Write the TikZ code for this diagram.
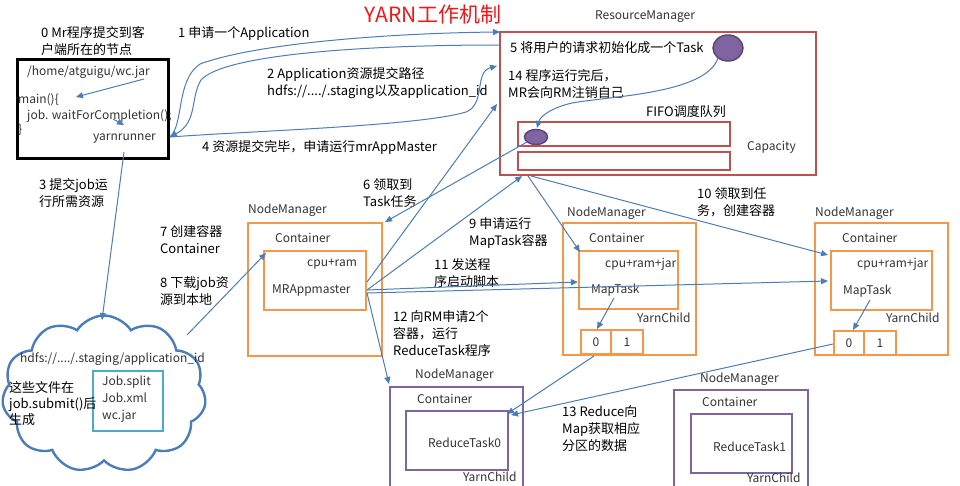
\documentclass[tikz,border=0pt]{standalone}
\usepackage{fontspec}
\setmainfont{Noto Sans CJK SC}
\usetikzlibrary{arrows.meta,shapes.symbols,shapes.geometric}
\definecolor{lineblue}{HTML}{4A7EBB}
\definecolor{rmred}{HTML}{C0504D}
\definecolor{nmorange}{HTML}{F79646}
\definecolor{rpurple}{HTML}{8064A2}
\definecolor{pborder}{HTML}{5C4776}
\definecolor{jobcyan}{HTML}{4BACC6}
\definecolor{txtgray}{HTML}{333333}
\definecolor{titlered}{HTML}{F01818}
\begin{document}
\begin{tikzpicture}[x=1pt,y=-1pt,
  lbl/.style={font=\fontsize{13}{17}\selectfont, align=left, anchor=north west, inner sep=0pt},
  txt/.style={font=\fontsize{12}{15}\selectfont, text=txtgray, anchor=west, inner sep=0pt},
  conn/.style={draw=lineblue, line width=1pt, -{Triangle[length=7pt,width=6pt]}},
  rbox/.style={draw=rmred, line width=2.5pt, anchor=north west, inner sep=0pt, outer sep=0pt},
  obox/.style={draw=nmorange, line width=2.5pt, anchor=north west, inner sep=0pt, outer sep=0pt},
  pbox/.style={draw=rpurple, line width=2.5pt, anchor=north west, inner sep=0pt, outer sep=0pt},
  taskdot/.style={ellipse, draw=pborder, line width=1.5pt, fill=rpurple, inner sep=0pt},
]
\useasboundingbox[fill=white] (0,0) rectangle (960,485);
\clip (0,0) rectangle (960,485);

% title
\node[font=\fontsize{21}{24}\selectfont, text=titlered, inner sep=0pt] (title) at (433,15) {YARN工作机制};

% client
\node[draw=black, line width=3pt, anchor=north west, minimum width=151, minimum height=99, inner sep=0pt] (client) at (16,58) {};
\node[lbl] (l0) at (41,26) {0 Mr程序提交到客\\户端所在的节点};
\node[txt] (jar) at (27,72) {/home/atguigu/wc.jar};
\node[txt] (main) at (18,100) {main()\{};
\node[txt] (wait) at (27,116) {job. waitForCompletion();};
\node[txt] (brace) at (18,130) {\}};
\node[txt] (yr) at (93,139) {yarnrunner};
\coordinate (yrp) at (170,137);
\coordinate (jarp) at (144,79);
\coordinate (mainp) at (76,97);
\coordinate (waitp) at (113,119);
\coordinate (yrtop) at (124,125);
\coordinate (yrbot) at (124,152);
\draw[conn] (jarp) -- (mainp);
\draw[conn] (waitp) -- (yrtop);

% resource manager
\node[font=\fontsize{12}{15}\selectfont, text=txtgray, inner sep=0pt] (rmname) at (645,17) {ResourceManager};
\node[rbox, minimum width=316, minimum height=143] (rm) at (500,32) {};
\node[lbl, anchor=west] (l5) at (510,48) {5 将用户的请求初始化成一个Task};
\node[taskdot, minimum width=30, minimum height=26] (bigtask) at (728,48) {};
\node[lbl] (l14) at (508,69) {14 程序运行完后，\\MR会向RM注销自己};
\node[lbl, anchor=west] (fifo) at (646,112) {FIFO调度队列};
\node[rbox, line width=2.2pt, minimum width=212, minimum height=24] (q1) at (518,122) {};
\node[rbox, line width=2.2pt, minimum width=212, minimum height=18] (q2) at (518,152) {};
\node[txt] (cap) at (747,147) {Capacity};
\node[taskdot, minimum width=23, minimum height=15] (smalltask) at (536,137) {};
\coordinate (rmtop) at (500,32);
\coordinate (rmin2) at (500,45);
\coordinate (rm4) at (497,66);
\coordinate (rm14) at (497,104);
\coordinate (rm9) at (522,176);
\coordinate (rmout) at (528,176);
\coordinate (rmout10) at (531,176);
\coordinate (bigtaskp) at (718,58);
\coordinate (smalltaskp) at (537,128);
\coordinate (smalltaskq) at (527,142);

% labels of the client/RM exchange
\node[lbl] (l1) at (178,26) {1 申请一个Application};
\node[lbl] (l2) at (267,67) {2 Application资源提交路径\\hdfs://..../.staging以及application\_id};
\node[lbl] (l4) at (202,140) {4 资源提交完毕，申请运行mrAppMaster};

\draw[conn] (yrp) .. controls (184,124) and (176,80) .. (200,64) .. controls (260,42) and (400,33) .. (rmtop);
\draw[conn] (rmin2) .. controls (350,45) and (222,56) .. (201,80) .. controls (190,98) and (198,122) .. (yrp);
\draw[conn] (yrp) .. controls (250,131) and (420,126) .. (466,112) .. controls (486,104) and (474,72) .. (rm4);
\draw[conn] (bigtaskp) .. controls (706,94) and (610,96) .. (572,103) .. controls (550,108) and (540,117) .. (smalltaskp);

% NodeManager 1 (MRAppmaster)
\node[txt] (nm1name) at (248,210) {NodeManager};
\node[obox, minimum width=134, minimum height=133] (nm1) at (248,223) {};
\node[txt] (nm1cont) at (275,238) {Container};
\node[obox, minimum width=102, minimum height=59] (nm1in) at (264,251) {};
\node[txt] (cpu1) at (307,264) {cpu+ram};
\node[txt] (mra) at (272,290) {MRAppmaster};
\coordinate (nm1tr) at (385,222);
\coordinate (nm1inp) at (266,253);
\coordinate (mrap) at (367,282);
\coordinate (mraq) at (367,290);
\coordinate (mrar) at (367,293);

% NodeManager 2 (MapTask)
\node[txt] (nm2name) at (567,213) {NodeManager};
\node[obox, minimum width=133, minimum height=132] (nm2) at (563,223) {};
\node[txt] (nm2cont) at (589,238) {Container};
\node[obox, minimum width=99, minimum height=58] (nm2in) at (579,251) {};
\node[txt] (cpu2) at (605,264) {cpu+ram+jar};
\node[txt] (mt2) at (591,290) {MapTask};
\node[txt] (yc2) at (637,318) {YarnChild};
\node[obox, minimum width=30, minimum height=24, font=\fontsize{12}{15}\selectfont, text=txtgray] (p20) at (581,330) {0};
\node[obox, minimum width=32, minimum height=24, font=\fontsize{12}{15}\selectfont, text=txtgray] (p21) at (611,330) {1};
\coordinate (nm2inp) at (580,252);
\coordinate (nm2inq) at (578,282);
\coordinate (mt2p) at (614,298);
\coordinate (p20top) at (597,329);
\coordinate (p20bot) at (594,356);

% NodeManager 3 (MapTask)
\node[txt] (nm3name) at (815,213) {NodeManager};
\node[obox, minimum width=133, minimum height=132] (nm3) at (815,223) {};
\node[txt] (nm3cont) at (842,238) {Container};
\node[obox, minimum width=101, minimum height=59] (nm3in) at (831,251) {};
\node[txt] (cpu3) at (857,264) {cpu+ram+jar};
\node[txt] (mt3) at (843,291) {MapTask};
\node[txt] (yc3) at (886,318) {YarnChild};
\node[obox, minimum width=30, minimum height=24, font=\fontsize{12}{15}\selectfont, text=txtgray] (p30) at (834,331) {0};
\node[obox, minimum width=32, minimum height=24, font=\fontsize{12}{15}\selectfont, text=txtgray] (p31) at (864,331) {1};
\coordinate (nm3inp) at (828,255);
\coordinate (nm3inq) at (828,281);
\coordinate (mt3p) at (870,300);
\coordinate (p30top) at (853,330);
\coordinate (p30left) at (833,344);

% Reduce NodeManagers
\node[txt] (rn1name) at (415,375) {NodeManager};
\node[pbox, minimum width=133, minimum height=110] (rn1) at (390,387) {};
\node[txt] (rn1cont) at (417,399) {Container};
\node[pbox, minimum width=102, minimum height=59] (rn1in) at (406,411) {};
\node[txt] (rt0) at (428,443) {ReduceTask0};
\node[txt] (ryc1) at (463,477) {YarnChild};
\coordinate (rn1top) at (389,384);
\coordinate (rn1inp) at (507,414);
\coordinate (rn1inq) at (511,415);

\node[txt] (rn2name) at (700,379) {NodeManager};
\node[pbox, minimum width=134, minimum height=110] (rn2) at (674,390) {};
\node[txt] (rn2cont) at (702,402) {Container};
\node[pbox, minimum width=101, minimum height=59] (rn2in) at (691,414) {};
\node[txt] (rt1) at (713,447) {ReduceTask1};
\node[txt] (ryc2) at (747,478) {YarnChild};

% cloud with job files
\node[cloud, draw=lineblue, line width=2.4pt, cloud puffs=11, cloud puff arc=115, aspect=1.3, minimum width=204, minimum height=157, inner sep=0pt] (cloud) at (104,394) {};
\node[txt] (hdfs) at (20,359) {hdfs://..../.staging/application\_id};
\node[draw=jobcyan, line width=2.2pt, anchor=north west, minimum width=70, minimum height=60, inner sep=0pt] (jobs) at (92,370) {};
\node[font=\fontsize{12}{17}\selectfont, text=txtgray, align=left, anchor=north west, inner sep=0pt] (jobfiles) at (102,376) {Job.split\\Job.xml\\wc.jar};
\node[lbl, font=\fontsize{13}{16}\selectfont] (lfiles) at (9,381) {这些文件在\\job.submit()后\\生成};
\coordinate (cloudtop) at (102,320);
\coordinate (cloudp) at (187,335);

% step labels
\node[lbl] (l3) at (39,178) {3 提交job运\\行所需资源};
\node[lbl] (l6) at (363,178) {6 领取到\\Task任务};
\node[lbl] (l7) at (160,225) {7 创建容器\\Container};
\node[lbl] (l8) at (160,276) {8 下载job资\\源到本地};
\node[lbl] (l9) at (469,217) {9 申请运行\\MapTask容器};
\node[lbl] (l10) at (697,187) {10 领取到任\\务，创建容器};
\node[lbl] (l11) at (434,258) {11 发送程\\序启动脚本};
\node[lbl] (l12) at (393,310) {12 向RM申请2个\\容器，运行\\ReduceTask程序};
\node[lbl] (l13) at (562,405) {13 Reduce向\\Map获取相应\\分区的数据};

% connectors
\draw[conn] (yrbot) -- (cloudtop);
\draw[conn] (cloudp) -- (nm1inp);
\draw[conn] (mrap) -- (rm14);
\draw[conn] (smalltaskq) -- (nm1tr);
\draw[conn] (mraq) -- (rm9);
\draw[conn] (rmout) -- (nm2inp);
\draw[conn] (rmout10) -- (nm3inp);
\draw[conn] (mraq) -- (nm2inq);
\draw[conn] (mrar) -- (nm3inq);
\draw[conn] (mrar) -- (rn1top);
\draw[conn] (mt2p) -- (p20top);
\draw[conn] (mt3p) -- (p30top);
\draw[conn] (p20bot) -- (rn1inp);
\draw[conn] (p30left) -- (rn1inq);
\end{tikzpicture}
\end{document}
